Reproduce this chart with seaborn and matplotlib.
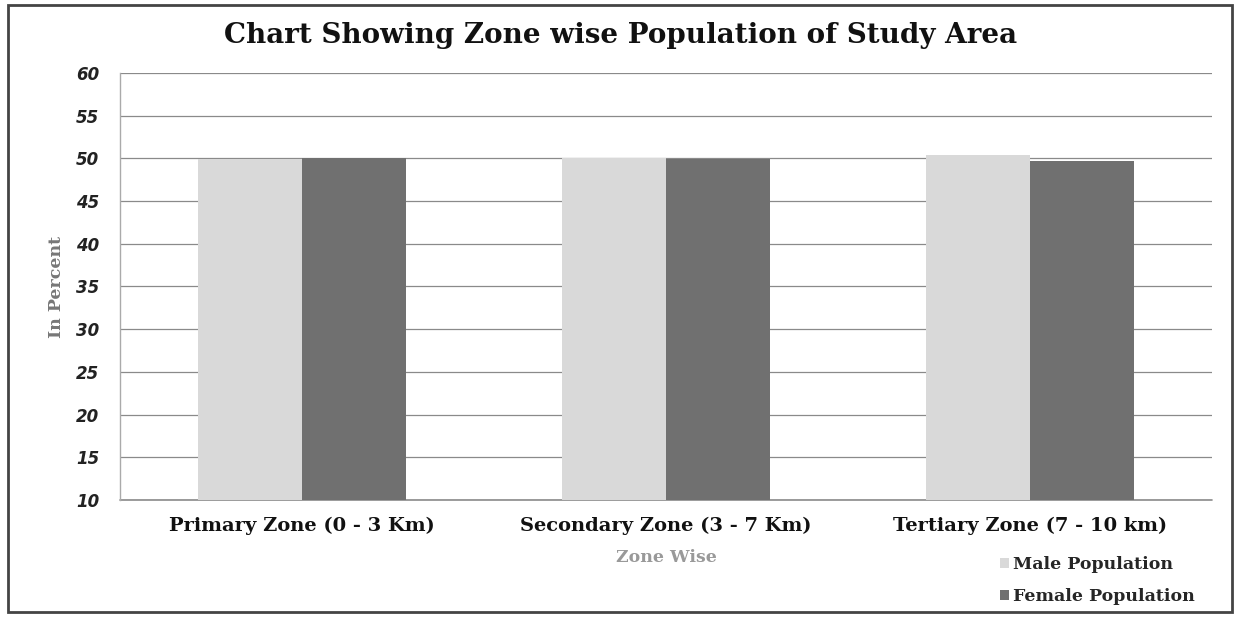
import matplotlib
matplotlib.use("Agg")
import matplotlib.pyplot as plt
import seaborn as sns
import pandas as pd
from matplotlib.patches import Rectangle

zones = ["Primary Zone (0 - 3 Km)", "Secondary Zone (3 - 7 Km)", "Tertiary Zone (7 - 10 km)"]
male_pct = [49.97, 50.1, 50.35]
female_pct = [50.03, 49.9, 49.65]
series = ["Male Population", "Female Population"]
y_ticks = [10, 15, 20, 25, 30, 35, 40, 45, 50, 55, 60]

df = pd.DataFrame({
    "zone": zones * 2,
    "value": male_pct + female_pct,
    "series": [series[0]] * 3 + [series[1]] * 3,
})

sns.set_theme(style="white")
plt.rcParams["font.family"] = ["DejaVu Serif"]

fig = plt.figure(figsize=(12.41, 6.17), dpi=100)
ax = fig.add_axes([120 / 1241, 1 - 500 / 617, 1092 / 1241, 427 / 617])

sns.barplot(data=df, x="zone", y="value", hue="series", ax=ax,
            palette=["#d9d9d9", "#707070"], width=0.57, saturation=1,
            edgecolor="none", legend=False, zorder=3)

ax.set_ylim(10, 60)
ax.set_yticks(y_ticks)
ax.set_yticklabels([str(t) for t in y_ticks], family="DejaVu Sans",
                   style="italic", fontweight="bold", fontsize=12, color="#222222")
ax.set_xlim(-0.5, 2.5)
ax.tick_params(axis="x", length=0, pad=12)
for lbl in ax.get_xticklabels():
    lbl.set_fontweight("bold")
    lbl.set_fontsize(14)
    lbl.set_color("#111111")
ax.tick_params(axis="y", length=5, width=0.8, color="#999999", direction="out", pad=10)

ax.grid(axis="y", color="#8a8a8a", linewidth=0.9, zorder=0)
ax.set_axisbelow(True)
ax.axhline(10, color="#8a8a8a", linewidth=1.2, zorder=1, clip_on=False)
for side in ["top", "right", "bottom"]:
    ax.spines[side].set_visible(False)
ax.spines["left"].set_color("#aaaaaa")
ax.spines["left"].set_linewidth(1.0)

ax.set_xlabel("Zone Wise", fontsize=12.5, fontweight="bold", color="#999999", labelpad=10)
ax.set_ylabel("In Percent", fontsize=12.5, fontweight="bold", color="#777777", labelpad=8)

fig.suptitle("Chart Showing Zone wise Population of Study Area", x=0.5, y=0.965,
             fontsize=20, fontweight="bold", color="#111111")

handles = [Rectangle((0, 0), 1, 1, facecolor=c, edgecolor="none") for c in ["#d9d9d9", "#707070"]]
fig.legend(handles, series, loc="lower right", bbox_to_anchor=(0.975, -0.006),
           frameon=False, handlelength=0.5, handleheight=0.5, handletextpad=0.2,
           labelspacing=0.85, prop={"family": "DejaVu Serif", "weight": "bold", "size": 12.5})

fig.patches.append(Rectangle((8 / 1241, 5 / 617), 1224 / 1241, 607 / 617,
                             transform=fig.transFigure, fill=False,
                             edgecolor="#444444", linewidth=2.0))

fig.savefig("out.png", dpi=100)
